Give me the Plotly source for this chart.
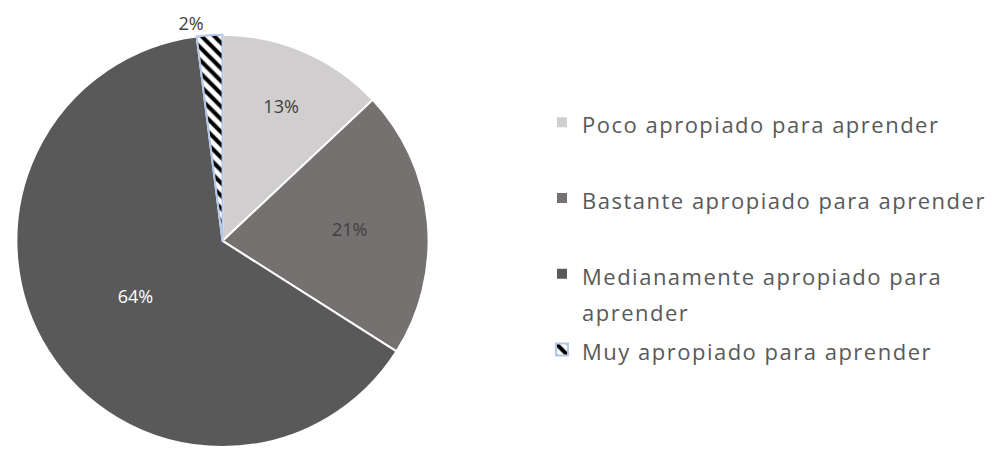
import plotly.graph_objects as go

categories = [
    "Poco apropiado para aprender",
    "Bastante apropiado para aprender",
    "Medianamente apropiado para<br>aprender",
    "Muy apropiado para aprender",
]
values = [13, 21, 64, 2]
colors = ["#d0cece", "#767171", "#595959", "#ffffff"]
text_colors = ["#404040", "#404040", "#ffffff", "#404040"]
patterns = ["", "", "", "\\"]
line_colors = ["#ffffff", "#ffffff", "#ffffff", "#b4c7e7"]
text_positions = ["inside", "inside", "inside", "outside"]

# legend: large line height, visible text at 22px
pad_lines = ["<br> ", "<br> ", "", ""]
legend_labels = [
    f"<span style='font-size:22px;letter-spacing:1.5px'>{c}</span>{p}"
    for c, p in zip(categories, pad_lines)
]

fig = go.Figure(
    go.Pie(
        labels=legend_labels,
        values=values,
        sort=False,
        direction="clockwise",
        rotation=0,
        marker=dict(
            colors=colors,
            line=dict(color=line_colors, width=2),
            pattern=dict(shape=patterns, fgcolor="#000000", bgcolor="#ffffff",
                         size=9, solidity=0.45, fillmode="replace"),
        ),
        texttemplate="%{percent:.0%}",
        textposition=text_positions,
        textfont=dict(family="Open Sans", size=18, color=text_colors),
        insidetextorientation="horizontal",
        hovertemplate="%{percent}<extra></extra>",
        domain=dict(x=[0.008, 0.433], y=[0.0, 0.922]),
    )
)

fig.update_layout(
    width=1002,
    height=452,
    margin=dict(l=0, r=0, t=0, b=0),
    paper_bgcolor="#ffffff",
    plot_bgcolor="#ffffff",
    showlegend=True,
    legend=dict(
        x=0.54,
        y=0.782,
        xanchor="left",
        yanchor="top",
        valign="top",
        font=dict(family="Open Sans", size=28, color="#595959"),
        bgcolor="rgba(0,0,0,0)",
        borderwidth=0,
    ),
)

fig.write_html("out.html")
